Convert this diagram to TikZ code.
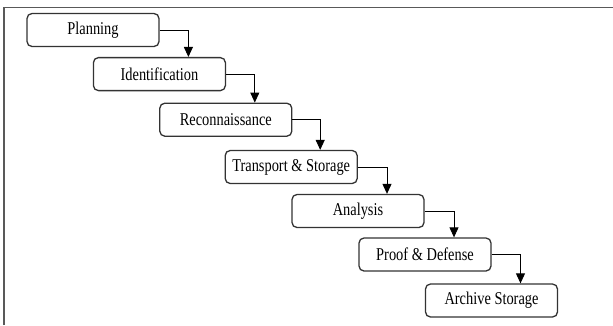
\documentclass[tikz,border=0pt]{standalone}
\usepackage{fontspec}
\setmainfont{Liberation Serif}
\usetikzlibrary{arrows.meta,calc}
\newcommand{\boxtxt}[1]{\scalebox{0.8}[1]{#1}}
\begin{document}
\begin{tikzpicture}[x=1pt,y=-1pt,
  stagebox/.style={draw=black!80, line width=1.3pt, rounded corners=5pt,
    minimum width=132pt, minimum height=33pt, inner sep=0pt,
    font=\fontsize{18}{20}\selectfont},
  flow/.style={draw=black, line width=0.9pt, -{Triangle[length=10pt,width=9pt]}},
  frameline/.style={draw=black!65, line width=1.2pt}]
\useasboundingbox (0,0) rectangle (613,325);
\draw[frameline] (4,325) -- (4,7.5) -- (613,7.5);
\node[stagebox] (b0) at (93,30) {\boxtxt{Planning}};
\node[stagebox] (b1) at (159.4,74.1) {\boxtxt{Identification}};
\node[stagebox] (b2) at (225.8,119.7) {\boxtxt{Reconnaissance}};
\node[stagebox] (b3) at (291.2,167) {\boxtxt{Transport \& Storage}};
\node[stagebox] (b4) at (358,211) {\boxtxt{Analysis}};
\node[stagebox] (b5) at (425,254.5) {\boxtxt{Proof \& Defense}};
\node[stagebox] (b6) at (491.5,300.5) {\boxtxt{Archive Storage}};
\foreach \i/\j in {0/1,1/2,2/3,3/4,4/5,5/6}{
  \coordinate (c\i) at ($(b\i.east -| b\j.center)+(29,0)$);
  \draw[flow] (b\i.east) -- (c\i) -- (c\i |- b\j.north);
}
\end{tikzpicture}
\end{document}
